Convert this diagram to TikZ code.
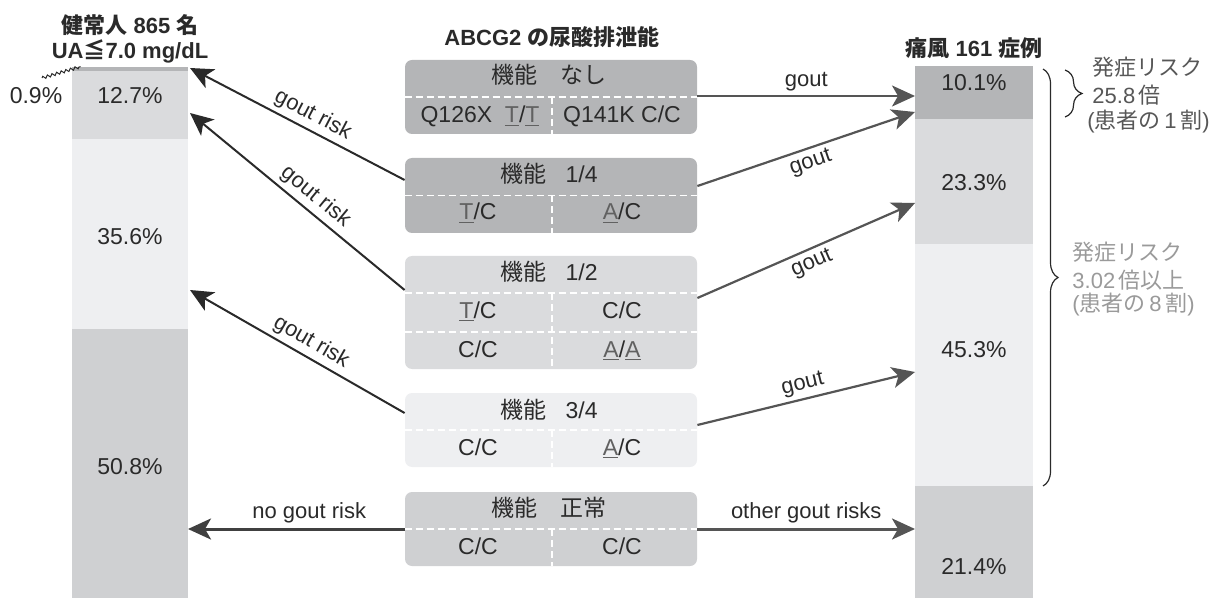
\documentclass[tikz,border=0pt]{standalone}
\usepackage{fontspec}
\setmainfont{Liberation Sans}
\newfontfamily\jp{Noto Sans CJK JP}
\usetikzlibrary{arrows.meta,decorations.pathreplacing,decorations.pathmorphing,calc}
\definecolor{fdark}{HTML}{B4B5B7}
\definecolor{fmid}{HTML}{DADBDD}
\definecolor{flight}{HTML}{EEEFF1}
\definecolor{fnorm}{HTML}{CFD0D2}
\definecolor{ink}{HTML}{2A2A2A}
\definecolor{arrowgray}{HTML}{555555}
\definecolor{notedark}{HTML}{575757}
\definecolor{notelight}{HTML}{9A9A9A}
% underlined base letter (risk allele)
\newcommand\riskal[1]{{\color{black!62}\underline{#1}}}
\begin{document}
\begin{tikzpicture}[x=0.5pt,y=-0.5pt,
  every node/.style={text=ink},
  barseg/.style={rectangle, inner sep=0pt, draw=none, minimum width=58pt},
  rbarseg/.style={rectangle, inner sep=0pt, draw=none, minimum width=59pt},
  pct/.style={inner sep=0pt, font=\fontsize{11.5}{13}\selectfont},
  funcbox/.style={rectangle, rounded corners=3.5pt, inner sep=0pt, minimum width=146pt, draw=none},
  celltxt/.style={inner sep=0pt, text height=8pt, text depth=2pt, font=\fontsize{11.5}{13}\selectfont},
  divline/.style={draw=white, line width=0.6pt, dash pattern=on 3.5pt off 2pt},
  golbl/.style={font=\fontsize{11}{13}\selectfont, inner sep=2pt, sloped},
  arrL/.style={draw=ink, line width=1pt, -{Stealth[length=11.5pt,width=10.5pt,inset=3pt]}},
  arrR/.style={draw=arrowgray, line width=1.1pt, -{Stealth[length=11.5pt,width=10.5pt,inset=3pt]}},
  titletxt/.style={inner sep=0pt, font=\fontsize{11}{13}\selectfont\bfseries},
  notetxt/.style={inner sep=0pt, anchor=west, font=\fontsize{11}{13}\selectfont},
  brc/.style={draw=ink, line width=0.6pt, decorate}
]
\useasboundingbox (0,0) rectangle (1229,598);

% ---- healthy controls bar ----
\node[barseg, fill=fdark, minimum height=2pt] (L0) at (130,69) {};
\node[barseg, fill=fmid, minimum height=34pt] (L1) at (130,105) {};
\node[barseg, fill=flight, minimum height=95pt] (L2) at (130,234) {};
\node[barseg, fill=fnorm, minimum height=134.5pt] (L3) at (130,463.5) {};

\node[pct] (v09) at (36,96) {0.9\%};
\node[pct] (v127) at (130,96) {12.7\%};
\node[pct] (v356) at (130,237) {35.6\%};
\node[pct] (v508) at (130,467) {50.8\%};

\coordinate (lead) at (42,78);
\draw[ink, line width=0.5pt, decorate, decoration={zigzag, segment length=2.4pt, amplitude=0.7pt}]
  (lead) -- ([xshift=4.5pt]L0.north west);

\node[titletxt] (tl1) at (130,25) {{\jp 健常人} 865 {\jp 名}};
\node[titletxt] (tl2) at (130,51) {UA{\jp ≦}7.0 mg/dL};

% ---- gout cases bar ----
\node[rbarseg, fill=fdark, minimum height=26.5pt] (R1) at (974,92.5) {};
\node[rbarseg, fill=fmid, minimum height=62.5pt] (R2) at (974,181.5) {};
\node[rbarseg, fill=flight, minimum height=121pt] (R3) at (974,365) {};
\node[rbarseg, fill=fnorm, minimum height=56pt] (R4) at (974,542) {};

\node[pct] (v101) at (974,83) {10.1\%};
\node[pct] (v233) at (974,183) {23.3\%};
\node[pct] (v453) at (974,350) {45.3\%};
\node[pct] (v214) at (974,567) {21.4\%};

\node[titletxt] (tr) at (974,48) {{\jp 痛風} 161 {\jp 症例}};

% ---- ABCG2 function boxes ----
\node[titletxt] (tc) at (552,37) {ABCG2 {\jp の尿酸排泄能}};

\node[funcbox, fill=fdark, minimum height=37pt] (box1) at (551,97) {};
\node[funcbox, fill=fdark, minimum height=37.5pt] (box2) at (551,195.5) {};
\node[funcbox, fill=fmid, minimum height=56.5pt] (box3) at (551,312.5) {};
\node[funcbox, fill=flight, minimum height=37pt] (box4) at (551,430) {};
\node[funcbox, fill=fnorm, minimum height=37pt] (box5) at (551,529) {};

\foreach \b in {box1,box2,box4,box5}{
  \draw[divline] (\b.west) -- (\b.east);
  \draw[divline] ([xshift=0.5pt]\b.center) -- ([xshift=0.5pt]\b.south);
}
\draw[divline] ([yshift=9.75pt]box3.west) -- ([yshift=9.75pt]box3.east);
\draw[divline] ([yshift=-9.75pt]box3.west) -- ([yshift=-9.75pt]box3.east);
\draw[divline] ([xshift=0.5pt,yshift=9.75pt]box3.center) -- ([xshift=0.5pt]box3.south);

\node[celltxt] (b1t) at (549,78) {\jp 機能　なし};
\node[celltxt] (b1l) at (480,117) {Q126X\ \ \riskal{T}/\riskal{T}};
\node[celltxt] (b1r) at (622,117) {Q141K C/C};

\node[celltxt] (b2t) at (549,177) {{\jp 機能}\ \ \ 1/4};
\node[celltxt] (b2l) at (478,214) {\riskal{T}/C};
\node[celltxt] (b2r) at (622,214) {\riskal{A}/C};

\node[celltxt] (b3t) at (549,275) {{\jp 機能}\ \ \ 1/2};
\node[celltxt] (b3l) at (478,312) {\riskal{T}/C};
\node[celltxt] (b3r) at (622,312) {C/C};
\node[celltxt] (b3l2) at (478,351) {C/C};
\node[celltxt] (b3r2) at (622,351) {\riskal{A}/\riskal{A}};

\node[celltxt] (b4t) at (549,412) {{\jp 機能}\ \ \ 3/4};
\node[celltxt] (b4l) at (478,449) {C/C};
\node[celltxt] (b4r) at (622,449) {\riskal{A}/C};

\node[celltxt] (b5t) at (549,510) {\jp 機能　正常};
\node[celltxt] (b5l) at (478,548) {C/C};
\node[celltxt] (b5r) at (622,548) {C/C};

% ---- arrow end points on the bars ----
\coordinate (hA) at (190,68);
\coordinate (hB) at (190,113);
\coordinate (hC) at (190,290);
\coordinate (hD) at (188,529);
\coordinate (gA) at (915,96);
\coordinate (gB) at (915,112);
\coordinate (gC) at (915,203);
\coordinate (gD) at (915,372);
\coordinate (gE) at (915,529);

% ---- arrows towards the healthy controls ----
\draw[arrL] ([yshift=7.75pt]box2.west) -- node[golbl, above, pos=0.46] {gout risk} (hA);
\draw[arrL] ([yshift=11.25pt]box3.west) -- node[golbl, above, pos=0.46] {gout risk} (hB);
\draw[arrL] ([yshift=8.5pt]box4.west) -- node[golbl, above, pos=0.47] {gout risk} (hC);
\draw[arrL, draw=black!75, line width=1.5pt] (box5.west) -- node[golbl, above, pos=0.44] {no gout risk} (hD);

% ---- arrows towards the gout cases ----
\draw[arrR] ([yshift=0.5pt]box1.east) -- node[golbl, above] {gout} (gA);
\draw[arrR] ([yshift=4.75pt]box2.east) -- node[golbl, below] {gout} (gB);
\draw[arrR] ([yshift=7.25pt]box3.east) -- node[golbl, below] {gout} (gC);
\draw[arrR] ([yshift=2.5pt]box4.east) -- node[golbl, above] {gout} (gD);
\draw[arrR, line width=1.5pt] (box5.east) -- node[golbl, above] {other gout risks} (gE);

% ---- risk braces and notes ----
\coordinate (s1) at (1065,70);
\coordinate (s2) at (1065,117);
\draw[brc, decoration={brace, amplitude=8.5pt}] (s1) -- (s2);
\coordinate (k1) at (1043,69);
\coordinate (k2) at (1043,486);
\draw[brc, decoration={brace, amplitude=7.5pt}] (k1) -- (k2);

\node[notetxt, text=notedark] (n1a) at (1092,67) {\jp 発症リスク};
\node[notetxt, text=notedark] (n1b) at (1092,95) {25.8\,{\jp 倍}};
\node[notetxt, text=notedark] (n1c) at (1087,122) {({\jp 患者の}\,1\,{\jp 割})};

\node[notetxt, text=notelight] (n2a) at (1072,252) {\jp 発症リスク};
\node[notetxt, text=notelight] (n2b) at (1072,280) {3.02\,{\jp 倍以上}};
\node[notetxt, text=notelight] (n2c) at (1072,305) {({\jp 患者の}\,8\,{\jp 割})};
\end{tikzpicture}
\end{document}
